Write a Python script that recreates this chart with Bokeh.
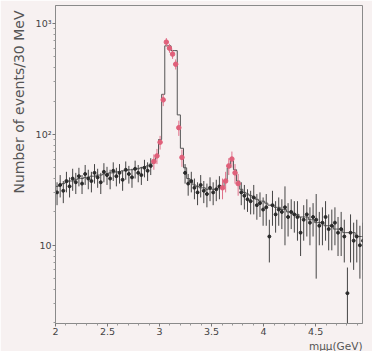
import math
from bokeh.plotting import figure
from bokeh.models import Range1d, FixedTicker, ColumnDataSource, Title
from bokeh.embed import file_html
from bokeh.resources import INLINE

# ---- data (30 MeV bins from 2.0 to 5.0 GeV) ----
bin_lo = 2.0
bin_w = 0.03
counts = [30, 35, 31, 38, 34, 40, 37, 42, 36, 44,
          40, 38, 45, 41, 37, 46, 43, 40, 47, 42,
          45, 39, 48, 44, 41, 49, 45, 43, 50, 47,
          52, 57, 64, 85, 205, 680, 600, 530, 430, 115,
          62, 45, 36, 38, 33, 30, 35, 31, 29, 33,
          30, 32, 34, 33, 38, 52, 60, 45, 36, 30,
          28, 26, 25, 27, 23, 24, 21, 22, 12, 23,
          19, 21, 20, 22, 18, 20, 19, 18, 13, 17,
          19, 16, 18, 17, 15, 16, 18, 14, 15, 16,
          13, 14, 12, 3.7, 13, 11, 12, 10, 11, 9]
errors = [7, 8, 7, 8, 7, 9, 8, 8, 7, 9,
          8, 8, 9, 8, 8, 9, 8, 8, 9, 8,
          9, 8, 9, 8, 8, 9, 8, 8, 9, 9,
          9, 9, 10, 12, 25, 60, 55, 50, 45, 18,
          11, 9, 8, 8, 7, 7, 8, 7, 7, 8,
          7, 7, 8, 7, 8, 9, 10, 9, 8, 7,
          7, 6, 6, 8, 6, 6, 6, 7, 5, 8,
          6, 6, 6, 12, 6, 6, 6, 7, 5, 6,
          7, 6, 6, 12, 5, 6, 7, 5, 6, 6,
          5, 6, 5, 2.6, 6, 5, 5, 5, 5, 4]
mc = [34, 35, 36, 37, 38, 38, 39, 40, 40, 41,
      41, 42, 42, 43, 43, 44, 44, 45, 45, 46,
      46, 47, 47, 48, 48, 49, 49, 50, 51, 52,
      54, 57, 63, 90, 230, 630, 630, 570, 570, 150,
      75, 50, 40, 37, 35, 34, 33, 33, 32, 32,
      32, 32, 33, 34, 38, 50, 58, 48, 38, 32,
      30, 29, 28, 27, 26, 25, 25, 24, 23, 23,
      22, 22, 21, 21, 20, 20, 19, 19, 18, 18,
      18, 17, 17, 16, 16, 16, 15, 15, 15, 14,
      14, 14, 13, 13, 13, 13, 12, 12, 12, 12]
red_bins = [31, 32, 33, 34, 35, 36, 37, 38, 39, 40,
            53, 54, 55, 56, 57, 58]
x_ticks = [2, 2.5, 3, 3.5, 4, 4.5, 5]
x_tick_labels = ["2", "2.5", "3", "3.5", "4", "4.5", "5"]
y_ticks = [10, 100, 1000]
y_tick_labels = ["10", "10\u00b2", "10\u00b3"]
y_title = "Number of events/30 MeV"
x_title = "m\u03bc\u03bc(GeV)"

n = len(counts)
centers = [bin_lo + bin_w * (i + 0.5) for i in range(n)]
edges = [bin_lo + bin_w * i for i in range(n + 1)]

def subset(idx):
    return ColumnDataSource(dict(
        x=[centers[i] for i in idx],
        y=[counts[i] for i in idx],
        lo=[max(counts[i] - errors[i], 1.0) for i in idx],
        hi=[counts[i] + errors[i] for i in idx],
    ))

black_idx = [i for i in range(n) if i not in red_bins]
src_black = subset(black_idx)
src_red = subset(red_bins)

bg = "#f7f1f1"
p = figure(width=372, height=351, y_axis_type="log",
           x_range=Range1d(2, 4.95), y_range=Range1d(1.97, 1455),
           output_backend="svg", toolbar_location=None,
           min_border_left=55, min_border_right=10,
           min_border_top=5, min_border_bottom=28)
p.background_fill_color = bg
p.border_fill_color = bg
p.xgrid.visible = False
p.ygrid.visible = False
p.outline_line_color = "#8a8a8a"

minor_x = [2 + 0.1 * k for k in range(31) if k % 5 != 0]
p.xaxis.ticker = FixedTicker(ticks=x_ticks, minor_ticks=minor_x)
p.xaxis.major_label_overrides = {t: l for t, l in zip(x_ticks, x_tick_labels)}
minor_y = [m * d for d in (1, 10, 100) for m in range(2, 10)]
p.yaxis.ticker = FixedTicker(ticks=y_ticks, minor_ticks=minor_y)
p.yaxis.major_label_overrides = {t: l for t, l in zip(y_ticks, y_tick_labels)}
for ax in (p.xaxis, p.yaxis):
    ax.axis_line_color = "#8a8a8a"
    ax.major_tick_line_color = "#777777"
    ax.minor_tick_line_color = "#999999"
    ax.major_tick_in = 0
    ax.major_tick_out = 3
    ax.minor_tick_in = 0
    ax.minor_tick_out = 2
    ax.major_label_text_font = "DejaVu Sans"
    ax.major_label_text_font_size = "9.5px"
    ax.major_label_text_color = "#444444"
    ax.major_label_standoff = 1

# MC histogram
p.step(x=edges, y=mc + [mc[-1]], mode="after", line_color="#555555", line_width=1)

# data points
p.segment(x0="x", y0="lo", x1="x", y1="hi", source=src_black, line_color="#444444", line_width=1)
p.scatter(x="x", y="y", source=src_black, size=3, color="#2a2a2a")
p.segment(x0="x", y0="lo", x1="x", y1="hi", source=src_red, line_color="#e0708a", line_width=1)
p.scatter(x="x", y="y", source=src_red, size=4.5, color="#e0607a")

# axis titles
p.add_layout(Title(text=y_title, align="right", text_font="DejaVu Sans",
                   text_font_size="14px", text_font_style="normal",
                   text_color="#555555", standoff=12, offset=5), "left")
p.add_layout(Title(text=x_title, align="right", text_font="DejaVu Sans",
                   text_font_size="10.5px", text_font_style="normal",
                   text_color="#555555", standoff=0), "below")

open("out.html", "w").write(file_html(p, INLINE))
